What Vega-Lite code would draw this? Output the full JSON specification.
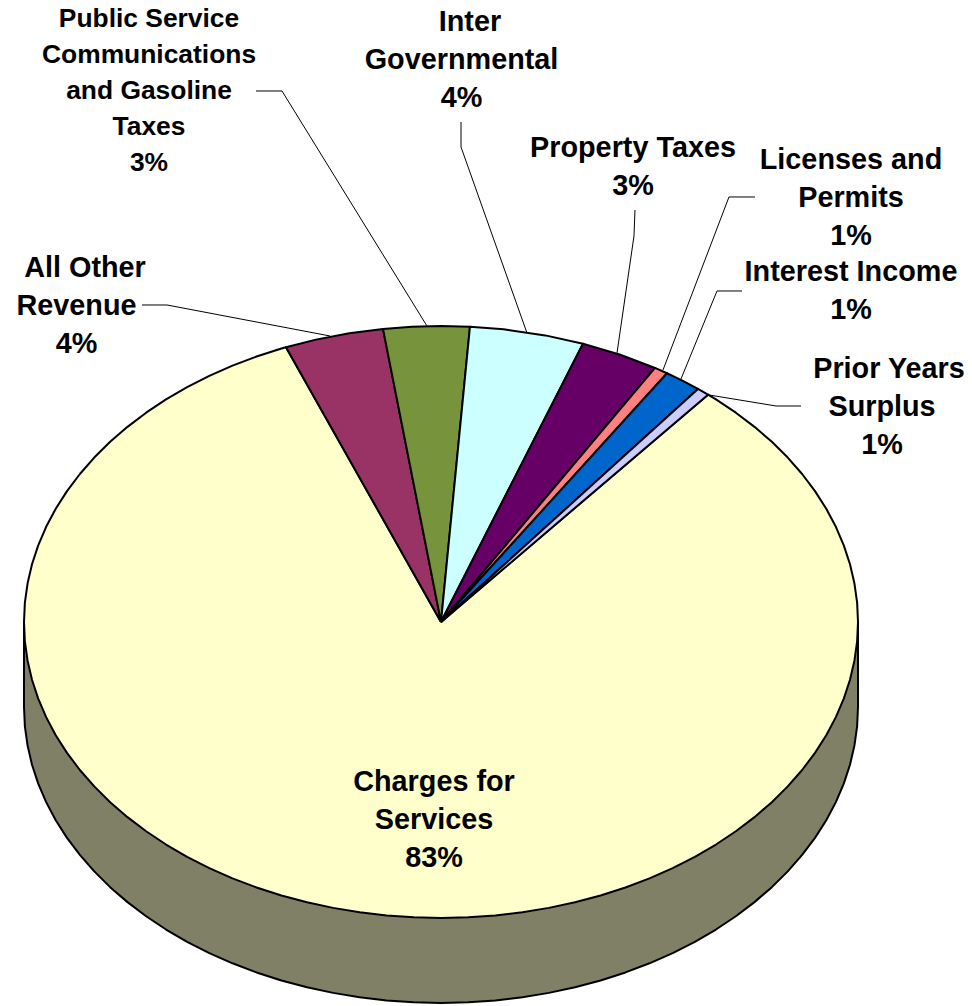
{
"$schema":"https://vega.github.io/schema/vega-lite/v6.json",
"width":972,"height":1006,"padding":0,"autosize":"none","background":"white",
"config":{"view":{"stroke":null}},
"datasets":{
"outline":[
{"part":"Wall","seq":0,"x":-100,"y":0},{"part":"Wall","seq":1,"x":-100,"y":-20.38},{"part":"Wall","seq":2,"x":-99.79,"y":-25.02},{"part":"Wall","seq":3,"x":-99.14,"y":-29.65},{"part":"Wall","seq":4,"x":-98.08,"y":-34.23},{"part":"Wall","seq":5,"x":-96.59,"y":-38.75},{"part":"Wall","seq":6,"x":-94.69,"y":-43.2},{"part":"Wall","seq":7,"x":-92.39,"y":-47.54},{"part":"Wall","seq":8,"x":-89.69,"y":-51.77},{"part":"Wall","seq":9,"x":-86.6,"y":-55.87},{"part":"Wall","seq":10,"x":-83.15,"y":-59.81},{"part":"Wall","seq":11,"x":-79.34,"y":-63.59},{"part":"Wall","seq":12,"x":-75.18,"y":-67.18},{"part":"Wall","seq":13,"x":-70.71,"y":-70.57},{"part":"Wall","seq":14,"x":-65.94,"y":-73.75},{"part":"Wall","seq":15,"x":-60.88,"y":-76.69},{"part":"Wall","seq":16,"x":-55.56,"y":-79.4},{"part":"Wall","seq":17,"x":-50,"y":-81.85},{"part":"Wall","seq":18,"x":-44.23,"y":-84.04},{"part":"Wall","seq":19,"x":-38.27,"y":-85.96},{"part":"Wall","seq":20,"x":-32.14,"y":-87.59},{"part":"Wall","seq":21,"x":-25.88,"y":-88.94},{"part":"Wall","seq":22,"x":-19.51,"y":-90},{"part":"Wall","seq":23,"x":-13.05,"y":-90.75},{"part":"Wall","seq":24,"x":-6.54,"y":-91.21},{"part":"Wall","seq":25,"x":0,"y":-91.36},{"part":"Wall","seq":26,"x":6.54,"y":-91.21},{"part":"Wall","seq":27,"x":13.05,"y":-90.75},{"part":"Wall","seq":28,"x":19.51,"y":-90},{"part":"Wall","seq":29,"x":25.88,"y":-88.94},{"part":"Wall","seq":30,"x":32.14,"y":-87.59},{"part":"Wall","seq":31,"x":38.27,"y":-85.96},{"part":"Wall","seq":32,"x":44.23,"y":-84.04},{"part":"Wall","seq":33,"x":50,"y":-81.85},{"part":"Wall","seq":34,"x":55.56,"y":-79.4},{"part":"Wall","seq":35,"x":60.88,"y":-76.69},{"part":"Wall","seq":36,"x":65.94,"y":-73.75},{"part":"Wall","seq":37,"x":70.71,"y":-70.57},{"part":"Wall","seq":38,"x":75.18,"y":-67.18},{"part":"Wall","seq":39,"x":79.34,"y":-63.59},{"part":"Wall","seq":40,"x":83.15,"y":-59.81},{"part":"Wall","seq":41,"x":86.6,"y":-55.87},{"part":"Wall","seq":42,"x":89.69,"y":-51.77},{"part":"Wall","seq":43,"x":92.39,"y":-47.54},{"part":"Wall","seq":44,"x":94.69,"y":-43.2},{"part":"Wall","seq":45,"x":96.59,"y":-38.75},{"part":"Wall","seq":46,"x":98.08,"y":-34.23},{"part":"Wall","seq":47,"x":99.14,"y":-29.65},{"part":"Wall","seq":48,"x":99.79,"y":-25.02},{"part":"Wall","seq":49,"x":100,"y":-20.38},{"part":"Wall","seq":50,"x":100,"y":0},
{"part":"Charges","seq":0,"x":0,"y":0},{"part":"Charges","seq":1,"x":64.03,"y":54.52},{"part":"Charges","seq":2,"x":65.94,"y":53.37},{"part":"Charges","seq":3,"x":70.71,"y":50.19},{"part":"Charges","seq":4,"x":75.18,"y":46.8},{"part":"Charges","seq":5,"x":79.34,"y":43.21},{"part":"Charges","seq":6,"x":83.15,"y":39.43},{"part":"Charges","seq":7,"x":86.6,"y":35.49},{"part":"Charges","seq":8,"x":89.69,"y":31.39},{"part":"Charges","seq":9,"x":92.39,"y":27.16},{"part":"Charges","seq":10,"x":94.69,"y":22.82},{"part":"Charges","seq":11,"x":96.59,"y":18.37},{"part":"Charges","seq":12,"x":98.08,"y":13.85},{"part":"Charges","seq":13,"x":99.14,"y":9.27},{"part":"Charges","seq":14,"x":99.79,"y":4.64},{"part":"Charges","seq":15,"x":100,"y":0},{"part":"Charges","seq":16,"x":99.79,"y":-4.64},{"part":"Charges","seq":17,"x":99.14,"y":-9.27},{"part":"Charges","seq":18,"x":98.08,"y":-13.85},{"part":"Charges","seq":19,"x":96.59,"y":-18.37},{"part":"Charges","seq":20,"x":94.69,"y":-22.82},{"part":"Charges","seq":21,"x":92.39,"y":-27.16},{"part":"Charges","seq":22,"x":89.69,"y":-31.39},{"part":"Charges","seq":23,"x":86.6,"y":-35.49},{"part":"Charges","seq":24,"x":83.15,"y":-39.43},{"part":"Charges","seq":25,"x":79.34,"y":-43.21},{"part":"Charges","seq":26,"x":75.18,"y":-46.8},{"part":"Charges","seq":27,"x":70.71,"y":-50.19},{"part":"Charges","seq":28,"x":65.94,"y":-53.37},{"part":"Charges","seq":29,"x":60.88,"y":-56.31},{"part":"Charges","seq":30,"x":55.56,"y":-59.02},{"part":"Charges","seq":31,"x":50,"y":-61.47},{"part":"Charges","seq":32,"x":44.23,"y":-63.66},{"part":"Charges","seq":33,"x":38.27,"y":-65.58},{"part":"Charges","seq":34,"x":32.14,"y":-67.21},{"part":"Charges","seq":35,"x":25.88,"y":-68.56},{"part":"Charges","seq":36,"x":19.51,"y":-69.62},{"part":"Charges","seq":37,"x":13.05,"y":-70.37},{"part":"Charges","seq":38,"x":6.54,"y":-70.83},{"part":"Charges","seq":39,"x":0,"y":-70.98},{"part":"Charges","seq":40,"x":-6.54,"y":-70.83},{"part":"Charges","seq":41,"x":-13.05,"y":-70.37},{"part":"Charges","seq":42,"x":-19.51,"y":-69.62},{"part":"Charges","seq":43,"x":-25.88,"y":-68.56},{"part":"Charges","seq":44,"x":-32.14,"y":-67.21},{"part":"Charges","seq":45,"x":-38.27,"y":-65.58},{"part":"Charges","seq":46,"x":-44.23,"y":-63.66},{"part":"Charges","seq":47,"x":-50,"y":-61.47},{"part":"Charges","seq":48,"x":-55.56,"y":-59.02},{"part":"Charges","seq":49,"x":-60.88,"y":-56.31},{"part":"Charges","seq":50,"x":-65.94,"y":-53.37},{"part":"Charges","seq":51,"x":-70.71,"y":-50.19},{"part":"Charges","seq":52,"x":-75.18,"y":-46.8},{"part":"Charges","seq":53,"x":-79.34,"y":-43.21},{"part":"Charges","seq":54,"x":-83.15,"y":-39.43},{"part":"Charges","seq":55,"x":-86.6,"y":-35.49},{"part":"Charges","seq":56,"x":-89.69,"y":-31.39},{"part":"Charges","seq":57,"x":-92.39,"y":-27.16},{"part":"Charges","seq":58,"x":-94.69,"y":-22.82},{"part":"Charges","seq":59,"x":-96.59,"y":-18.37},{"part":"Charges","seq":60,"x":-98.08,"y":-13.85},{"part":"Charges","seq":61,"x":-99.14,"y":-9.27},{"part":"Charges","seq":62,"x":-99.79,"y":-4.64},{"part":"Charges","seq":63,"x":-100,"y":0},{"part":"Charges","seq":64,"x":-99.79,"y":4.64},{"part":"Charges","seq":65,"x":-99.14,"y":9.27},{"part":"Charges","seq":66,"x":-98.08,"y":13.85},{"part":"Charges","seq":67,"x":-96.59,"y":18.37},{"part":"Charges","seq":68,"x":-94.69,"y":22.82},{"part":"Charges","seq":69,"x":-92.39,"y":27.16},{"part":"Charges","seq":70,"x":-89.69,"y":31.39},{"part":"Charges","seq":71,"x":-86.6,"y":35.49},{"part":"Charges","seq":72,"x":-83.15,"y":39.43},{"part":"Charges","seq":73,"x":-79.34,"y":43.21},{"part":"Charges","seq":74,"x":-75.18,"y":46.8},{"part":"Charges","seq":75,"x":-70.71,"y":50.19},{"part":"Charges","seq":76,"x":-65.94,"y":53.37},{"part":"Charges","seq":77,"x":-60.88,"y":56.31},{"part":"Charges","seq":78,"x":-55.56,"y":59.02},{"part":"Charges","seq":79,"x":-50,"y":61.47},{"part":"Charges","seq":80,"x":-44.23,"y":63.66},{"part":"Charges","seq":81,"x":-38.27,"y":65.58},{"part":"Charges","seq":82,"x":-37.17,"y":65.9},{"part":"Charges","seq":83,"x":0,"y":0},
{"part":"Other","seq":0,"x":0,"y":0},{"part":"Other","seq":1,"x":-37.17,"y":65.9},{"part":"Other","seq":2,"x":-30,"y":67.71},{"part":"Other","seq":3,"x":-22,"y":69.24},{"part":"Other","seq":4,"x":-13.91,"y":70.28},{"part":"Other","seq":5,"x":0,"y":0},
{"part":"Public","seq":0,"x":0,"y":0},{"part":"Public","seq":1,"x":-13.91,"y":70.28},{"part":"Public","seq":2,"x":-7,"y":70.81},{"part":"Public","seq":3,"x":0,"y":70.98},{"part":"Public","seq":4,"x":6.95,"y":70.81},{"part":"Public","seq":5,"x":0,"y":0},
{"part":"Inter","seq":0,"x":0,"y":0},{"part":"Inter","seq":1,"x":6.95,"y":70.81},{"part":"Inter","seq":2,"x":15,"y":70.18},{"part":"Inter","seq":3,"x":25,"y":68.73},{"part":"Inter","seq":4,"x":34.05,"y":66.74},{"part":"Inter","seq":5,"x":0,"y":0},
{"part":"Property","seq":0,"x":0,"y":0},{"part":"Property","seq":1,"x":34.05,"y":66.74},{"part":"Property","seq":2,"x":43,"y":64.08},{"part":"Property","seq":3,"x":51.32,"y":60.92},{"part":"Property","seq":4,"x":0,"y":0},
{"part":"Licenses","seq":0,"x":0,"y":0},{"part":"Licenses","seq":1,"x":51.32,"y":60.92},{"part":"Licenses","seq":2,"x":54.2,"y":59.65},{"part":"Licenses","seq":3,"x":0,"y":0},
{"part":"Interest","seq":0,"x":0,"y":0},{"part":"Interest","seq":1,"x":54.2,"y":59.65},{"part":"Interest","seq":2,"x":58,"y":57.82},{"part":"Interest","seq":3,"x":61.63,"y":55.9},{"part":"Interest","seq":4,"x":0,"y":0},
{"part":"Prior","seq":0,"x":0,"y":0},{"part":"Prior","seq":1,"x":61.63,"y":55.9},{"part":"Prior","seq":2,"x":64.03,"y":54.52},{"part":"Prior","seq":3,"x":0,"y":0}
],
"leaders":[
{"to":"Public","seq":0,"x":-44.36,"y":127.34},{"to":"Public","seq":1,"x":-38.13,"y":127.34},{"to":"Public","seq":2,"x":-3.36,"y":70.98},
{"to":"Inter","seq":0,"x":4.8,"y":119.9},{"to":"Inter","seq":1,"x":4.8,"y":113.91},{"to":"Inter","seq":2,"x":20.62,"y":69.3},
{"to":"Property","seq":0,"x":46.52,"y":98.8},{"to":"Property","seq":1,"x":46.28,"y":92.57},{"to":"Property","seq":2,"x":42.21,"y":64.51},
{"to":"Licenses","seq":0,"x":75.3,"y":101.92},{"to":"Licenses","seq":1,"x":69.06,"y":101.92},{"to":"Licenses","seq":2,"x":53.24,"y":60.43},
{"to":"Interest","seq":0,"x":72.18,"y":79.38},{"to":"Interest","seq":1,"x":66.19,"y":79.38},{"to":"Interest","seq":2,"x":57.55,"y":58.27},
{"to":"Prior","seq":0,"x":64.27,"y":54.44},{"to":"Prior","seq":1,"x":80.34,"y":51.8},{"to":"Prior","seq":2,"x":86.33,"y":51.8},
{"to":"Other","seq":0,"x":-71.7,"y":76.02},{"to":"Other","seq":1,"x":-65.71,"y":76.02},{"to":"Other","seq":2,"x":-26.62,"y":68.59}
],
"labels":[
{"label":"Public Service\nCommunications\nand Gasoline\nTaxes\n3%","x":-70.02,"y":144.6,"dense":true},
{"label":"Inter","x":6.95,"y":143.88,"dense":false},
{"label":"Governmental\n4%","x":4.92,"y":134.77,"dense":false},
{"label":"Property Taxes\n3%","x":46.04,"y":113.67,"dense":false},
{"label":"Licenses and\nPermits\n1%","x":98.32,"y":110.79,"dense":false},
{"label":"Interest Income\n1%","x":98.32,"y":83.93,"dense":false},
{"label":"Prior Years","x":107.43,"y":60.67,"dense":false},
{"label":"Surplus\n1%","x":105.76,"y":51.56,"dense":false},
{"label":"All Other","x":-85.37,"y":84.89,"dense":false},
{"label":"Revenue\n4%","x":-87.41,"y":75.78,"dense":false},
{"label":"Charges for\nServices\n83%","x":-1.68,"y":-38.37,"dense":false}
]
},
"encoding":{
"x":{"field":"x","type":"quantitative","axis":null,"scale":{"domain":[-105.755,127.338],"nice":false,"zero":false}},
"y":{"field":"y","type":"quantitative","axis":null,"scale":{"domain":[-92.09,149.16],"nice":false,"zero":false}}
},
"layer":[
{"data":{"name":"outline"},
 "mark":{"type":"line","stroke":"black","strokeWidth":2,"strokeJoin":"round"},
 "encoding":{
  "detail":{"field":"part"},
  "order":{"field":"seq","type":"quantitative"},
  "fill":{"field":"part","type":"nominal","legend":null,"scale":{
   "domain":["Wall","Charges","Other","Public","Inter","Property","Licenses","Interest","Prior"],
   "range":["#808066","#FFFFCC","#993366","#77933C","#CCFFFF","#660066","#FF8080","#0066CC","#CCCCFF"]}}
 }},
{"data":{"name":"leaders"},
 "mark":{"type":"line","stroke":"black","strokeWidth":1},
 "encoding":{"detail":{"field":"to"},"order":{"field":"seq","type":"quantitative"}}},
{"data":{"name":"labels"},
 "transform":[{"filter":"!datum.dense"}],
 "mark":{"type":"text","font":"Liberation Sans","fontWeight":"bold","fontSize":28.8,"color":"black","align":"center","baseline":"middle","lineBreak":"\n","lineHeight":38},
 "encoding":{"text":{"field":"label"}}},
{"data":{"name":"labels"},
 "transform":[{"filter":"datum.dense"}],
 "mark":{"type":"text","font":"Liberation Sans","fontWeight":"bold","fontSize":26.4,"color":"black","align":"center","baseline":"middle","lineBreak":"\n","lineHeight":36},
 "encoding":{"text":{"field":"label"}}}
]
}
